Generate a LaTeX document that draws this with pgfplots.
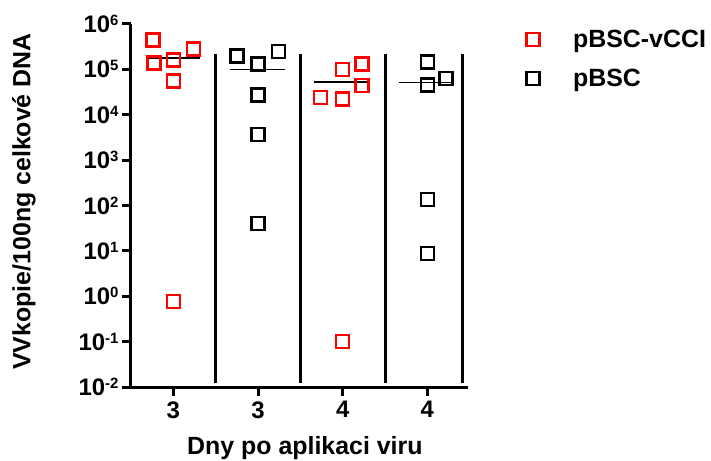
\documentclass[border=0pt]{standalone}
\usepackage{fontspec}
\setmainfont{Liberation Sans}
\usepackage{pgfplots}
\pgfplotsset{compat=1.18}
\newcommand{\tp}[1]{10\raisebox{7bp}{\fontsize{15}{15}\selectfont\bfseries #1}}
\begin{document}
\begin{tikzpicture}
\useasboundingbox (-131bp,-74bp) rectangle (580bp,387bp);
\begin{axis}[
  at={(0,0)}, anchor=south west,
  scale only axis, width=337bp, height=363bp,
  ymode=log, ymin=1e-2, ymax=1e6,
  xmin=-0.5, xmax=3.48,
  axis x line*=bottom, axis y line*=left,
  axis line style={line width=3bp},
  xtick={0,1,2,3}, xticklabels={3,3,4,4},
  ytick={1e-2,1e-1,1,10,100,1e3,1e4,1e5,1e6},
  yticklabels={\tp{-2},\tp{-1},\tp{0},\tp{1},\tp{2},\tp{3},\tp{4},\tp{5},\tp{6}},
  yminorticks=false,
  tick align=outside, major tick length=9bp,
  tick style={line width=3bp, black},
  ticklabel style={font=\fontsize{24}{28}\selectfont\bfseries},
  xticklabel style={yshift=-2bp},
  xlabel={Dny po aplikaci viru},
  ylabel={VVkopie/100ng celkové DNA},
  label style={font=\fontsize{25}{30}\selectfont\bfseries},
  xlabel style={at={(axis description cs:0.516,-0.185)}, anchor=base},
  ylabel style={at={(axis description cs:-0.318,0.511)}, anchor=center},
  clip=false,
  legend style={draw=none, fill=none, at={(axis description cs:1.160,0.9945)}, anchor=north west,
    font=\fontsize{25}{30}\selectfont\bfseries, row sep=16bp},
  legend cell align=left,
  legend image code/.code={\path[draw=none] (0bp,0bp) -- (46bp,0bp); \draw[mark repeat=2, mark phase=2, #1] plot coordinates {(0bp,0bp) (8bp,0bp) (16bp,0bp)};},
]
\addplot[only marks, mark=square, mark size=6.5bp, draw=red, line width=2.6bp]
  coordinates {(-0.24,4.4e5) (-0.23,1.4e5) (0,1.6e5) (0.24,2.8e5) (0,5.6e4) (0,0.77)
               (2,1.0e5) (2.23,1.3e5) (2.23,4.4e4) (1.74,2.4e4) (2,2.2e4) (2,0.1)};
\addlegendentry{pBSC-vCCI}
\addplot[only marks, mark=square, mark size=6.5bp, draw=black, line width=2.6bp]
  coordinates {(0.75,2.0e5) (1,1.31e5) (1.24,2.5e5) (1,2.7e4) (1,3.7e3) (1,40)
               (3,1.47e5) (3,4.5e4) (3.22,6.3e4) (3,135) (3,8.7)};
\addlegendentry{pBSC}
% medians
\addplot[line width=1.5bp, forget plot] coordinates {(-0.30,1.8e5) (0.31,1.8e5)};
\addplot[line width=1.5bp, forget plot] coordinates {(0.67,1.0e5) (1.32,1.0e5)};
\addplot[line width=1.5bp, forget plot] coordinates {(1.66,5.3e4) (2.29,5.3e4)};
\addplot[line width=1.5bp, forget plot] coordinates {(2.66,5.2e4) (3.30,5.2e4)};
% separators
\addplot[line width=3bp, forget plot] coordinates {(0.5,1.2e-2) (0.5,2.2e5)};
\addplot[line width=3bp, forget plot] coordinates {(1.5,1.2e-2) (1.5,2.2e5)};
\addplot[line width=3bp, forget plot] coordinates {(2.5,1.2e-2) (2.5,2.2e5)};
\addplot[line width=3bp, forget plot] coordinates {(3.42,1.2e-2) (3.42,2.2e5)};
\end{axis}
\end{tikzpicture}
\end{document}
